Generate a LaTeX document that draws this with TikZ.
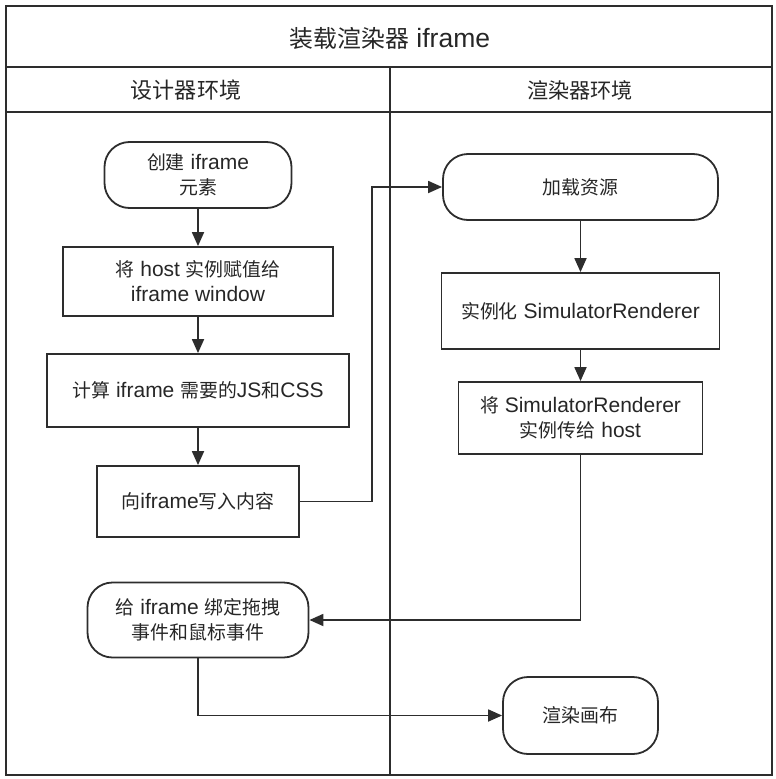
\documentclass[tikz,border=0pt]{standalone}
\usepackage{fontspec}
\setmainfont{Liberation Sans}
\newfontfamily\cjk[Scale=0.9]{Noto Sans CJK SC}
\usetikzlibrary{arrows.meta}
\definecolor{linegray}{RGB}{45,45,45}

\begin{document}
\begin{tikzpicture}[x=1pt,y=-1pt,
	frame/.style={draw=linegray,line width=1.8pt},
	terminal/.style={draw=linegray,line width=1.8pt,rounded corners=25pt,align=center,inner sep=0pt,text=black!85,font=\fontsize{21}{25}\selectfont},
	process/.style={draw=linegray,line width=1.8pt,align=center,inner sep=0pt,text=black!85,font=\fontsize{21}{25}\selectfont},
	flow/.style={draw=linegray,line width=1.8pt,-{Triangle[length=14pt,width=12pt]}}]
			\useasboundingbox (0,0) rectangle (776,779);
			\coordinate (tl) at (6,6);
			\coordinate (br) at (772,775);
			\coordinate (split) at (390,67);
			\coordinate (jog) at (372,187);
			\draw[frame] (tl) rectangle (br);
			\draw[frame] (6,67) -- (772,67);
			\draw[frame] (6,112) -- (772,112);
			\draw[frame] (split) -- (split |- br);
			\node[text=black!85,font=\fontsize{26.5}{30}\selectfont] (title) at (390,38) {{\cjk 装载渲染器} iframe};
			\node[text=black!85,font=\fontsize{24.5}{28}\selectfont] (designer) at (186,90) {\cjk 设计器环境};
			\node[text=black!85,font=\fontsize{23.5}{28}\selectfont] (renderer) at (580,90) {\cjk 渲染器环境};
			\node[terminal,minimum width=187pt,minimum height=66pt] (create) at (198,175) {{\cjk 创建} iframe\\{\cjk 元素}};
			\node[process,minimum width=270pt,minimum height=69pt] (assign) at (198,281.5) {{\cjk 将} host {\cjk 实例赋值给}\\iframe window};
			\node[process,minimum width=302pt,minimum height=73pt] (calc) at (198,390.5) {{\cjk 计算} iframe {\cjk 需要的}JS{\cjk 和}CSS};
			\node[process,minimum width=202pt,minimum height=71pt] (write) at (198,501.5) {{\cjk 向}iframe{\cjk 写入内容}};
			\node[terminal,minimum width=221pt,minimum height=75pt] (bind) at (198,620) {{\cjk 给} iframe {\cjk 绑定拖拽}\\{\cjk 事件和鼠标事件}};
			\node[terminal,minimum width=275pt,minimum height=66pt] (load) at (580.5,187) {\cjk 加载资源};
			\node[process,minimum width=278pt,minimum height=76pt] (inst) at (580.5,311) {{\cjk 实例化} SimulatorRenderer};
			\node[process,minimum width=244pt,minimum height=72pt] (pass) at (580.5,418) {{\cjk 将} SimulatorRenderer\\{\cjk 实例传给} host};
			\node[terminal,minimum width=155pt,minimum height=77pt] (render) at (580.5,715.5) {\cjk 渲染画布};
			\draw[flow] (create) -- (assign);
			\draw[flow] (assign) -- (calc);
			\draw[flow] (calc) -- (write);
			\draw[flow] (write.east) -| (jog) |- (load.west);
			\draw[flow] (load) -- (inst);
			\draw[flow] (inst) -- (pass);
			\draw[flow] (pass.south) |- (bind.east);
			\draw[flow] (bind.south) |- (render.west);
		\end{tikzpicture}
\end{document}
